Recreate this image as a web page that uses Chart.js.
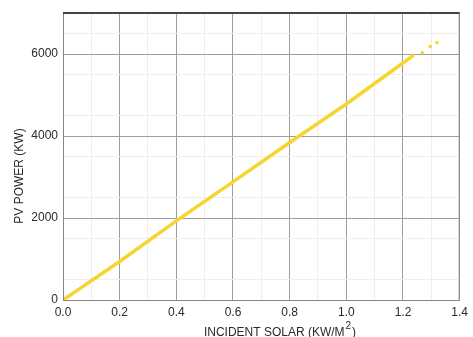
<!DOCTYPE html>
<html>
<head>
<meta charset="utf-8">
<script src="https://cdn.jsdelivr.net/npm/chart.js@4/dist/chart.umd.min.js"></script>
<style>
html,body{margin:0;padding:0;background:#fff;}
#wrap{width:473px;height:337px;position:relative;}
</style>
</head>
<body>
<div id="wrap"><canvas id="c" width="473" height="337"></canvas></div>
<script>
// Dense trace
const solarX = [0, 0.2, 0.4, 0.6, 0.8, 1.0, 1.2, 1.235];
const powerY = [0, 940, 1930, 2880, 3840, 4780, 5780, 5960];
// Sparse points at the top end
const sparseX = [1.268, 1.296, 1.32];
const sparseY = [6030, 6180, 6280];
const xTickLabels = ['0.0','0.2','0.4','0.6','0.8','1.0','1.2','1.4'];
const yTickLabels = ['0','2000','4000','6000'];
const xTitleMain = 'INCIDENT SOLAR (KW/M';
const xTitleSup = '2';
const xTitleEnd = ')';
const yTitle = 'PV POWER (KW)';

const lineData = solarX.map((x,i)=>({x:x,y:powerY[i]}));
const sparseData = sparseX.map((x,i)=>({x:x,y:sparseY[i]}));
const yellow = '#f6d531';
const FONT = '"Liberation Sans", Arial, sans-serif';

const frame = {
  id:'frame',
  afterDraw(chart){
    const {ctx, chartArea:a} = chart;
    ctx.save();
    ctx.strokeStyle = '#8a8484';
    ctx.lineWidth = 1;
    ctx.beginPath();
    ctx.moveTo(a.left+0.5, a.top); ctx.lineTo(a.left+0.5, a.bottom+0.5);
    ctx.lineTo(a.right-0.5, a.bottom+0.5); ctx.lineTo(a.right-0.5, a.top);
    ctx.stroke();
    ctx.strokeStyle = '#444';
    ctx.lineWidth = 2;
    ctx.beginPath(); ctx.moveTo(a.left, a.top); ctx.lineTo(a.right, a.top); ctx.stroke();
    ctx.fillStyle = '#2a2a2a';
    ctx.textBaseline = 'alphabetic'; ctx.textAlign = 'left';
    ctx.font = '12px ' + FONT;
    const wMain = ctx.measureText(xTitleMain).width;
    ctx.font = '10px ' + FONT;
    const wSup = ctx.measureText(xTitleSup).width;
    ctx.font = '12px ' + FONT;
    const wEnd = ctx.measureText(xTitleEnd).width;
    let x0 = 280 - (wMain + wSup + 2 + wEnd)/2;
    ctx.fillText(xTitleMain, x0, 336);
    ctx.font = '10px ' + FONT;
    ctx.fillText(xTitleSup, x0 + wMain + 1, 329);
    ctx.font = '12px ' + FONT;
    ctx.fillText(xTitleEnd, x0 + wMain + wSup + 2, 336);
    ctx.textAlign = 'center'; ctx.textBaseline = 'middle';
    ctx.translate(20, 176); ctx.rotate(-Math.PI/2);
    ctx.fillText(yTitle, 0, 0);
    ctx.restore();
  }
};

new Chart(document.getElementById('c'), {
  type:'scatter',
  data:{datasets:[
    {type:'line', data:lineData, borderColor:yellow, borderWidth:3.5, pointRadius:0, fill:false, tension:0, borderCapStyle:'round'},
    {type:'scatter', data:sparseData, backgroundColor:yellow, borderWidth:0, pointRadius:1.8}
  ]},
  options:{
    responsive:false, animation:false, events:[],
    layout:{padding:{top:13,right:6,left:0,bottom:0}},
    plugins:{legend:{display:false}, tooltip:{enabled:false}},
    scales:{
      x:{
        type:'linear', min:0, max:1.4,
        afterBuildTicks(s){ const t=[]; for(let i=0;i<=14;i++) t.push({value:i/10}); s.ticks=t; },
        afterFit(s){ s.height = 37; },
        border:{display:false},
        grid:{drawTicks:false, color(c){ const k=Math.round(c.tick.value*10); return k%2===0 ? '#a39c9c' : '#f0eded'; }, lineWidth:1},
        ticks:{autoSkip:false, maxRotation:0, padding:5, color:'#2a2a2a',
          font:{family:FONT, size:12},
          callback(v){ const k=Math.round(v*10); return k%2===0 ? xTickLabels[k/2] : ''; }}
      },
      y:{
        type:'linear', min:0, max:7000,
        afterBuildTicks(s){ const t=[]; for(let v=0;v<=7000;v+=500) t.push({value:v}); s.ticks=t; },
        afterFit(s){ s.width = 63; },
        border:{display:false},
        grid:{drawTicks:false, color(c){ const v=c.tick.value; if(v%2000===0) return '#a39c9c'; if(v%1000===500) return '#f0eded'; return 'rgba(0,0,0,0)'; }, lineWidth:1},
        ticks:{autoSkip:false, padding:5, color:'#2a2a2a',
          font:{family:FONT, size:12},
          callback(v){ return v%2000===0 ? yTickLabels[v/2000] : ''; }}
      }
    }
  },
  plugins:[frame]
});
</script>
</body>
</html>
